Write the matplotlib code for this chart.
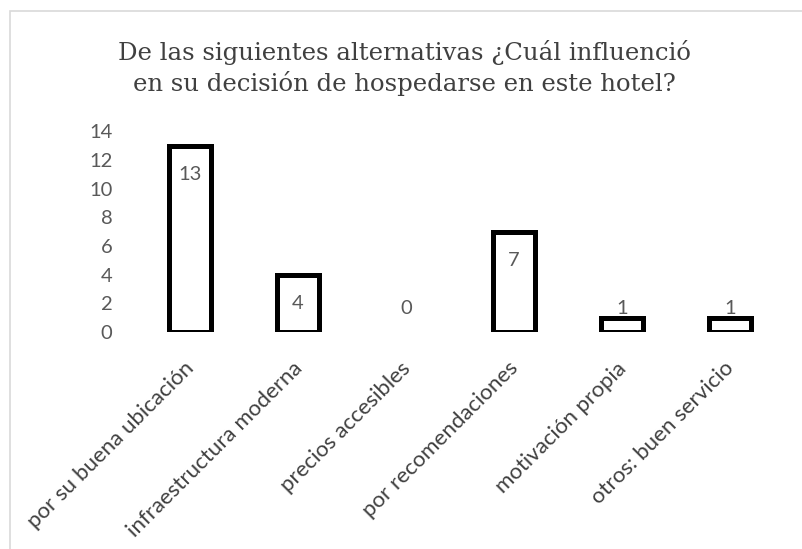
import matplotlib.pyplot as plt
import matplotlib.transforms as mtransforms
import numpy as np

categories = ['por su buena ubicación', 'infraestructura moderna', 'precios accesibles',
              'por recomendaciones', 'motivación propia', 'otros: buen servicio']
values = [13, 4, 0, 7, 1, 1]
yticks = [0, 2, 4, 6, 8, 10, 12, 14]
title = 'De las siguientes alternativas ¿Cuál influenció\nen su decisión de hospedarse en este hotel?'

fig = plt.figure(figsize=(8.02, 5.49), dpi=100)
# chart border (light gray frame like the spreadsheet chart area)
fig.patches.append(plt.Rectangle((10 / 802, -0.1), 1.0, (549 - 11) / 549 + 0.1,
                                 transform=fig.transFigure, fill=False,
                                 edgecolor='#d9d9d9', linewidth=1.2))

ax = fig.add_axes([136 / 802, 1 - 332 / 549, (784 - 136) / 802, (332 - 131.5) / 549])
x = np.arange(len(categories))
edges = ['black' if v > 0 else 'none' for v in values]
ax.bar(x, values, width=0.38, facecolor='white', edgecolor=edges, linewidth=3.6)

for xi, v in zip(x, values):
    y = max(v - 2.0, 1.65)
    ax.text(xi, y, str(v), ha='center', va='center', fontsize=14.5,
            family='Lato', color='#595959')

ax.set_xlim(-0.5, len(categories) - 0.5)
ax.set_ylim(0, 14)
ax.set_yticks(yticks)
ax.set_yticklabels([str(t) for t in yticks], family='Lato', fontsize=14.5, color='#595959')
ax.tick_params(axis='y', length=0, pad=17)
ax.set_xticks(x)
ax.set_xticklabels(categories, rotation=45, ha='right', rotation_mode='anchor',
                   family='Lato', fontsize=16, color='#404040')
ax.tick_params(axis='x', length=0, pad=16)
shift = mtransforms.ScaledTranslation(-6 / 100, -4 / 100, fig.dpi_scale_trans)
for lbl in ax.get_xticklabels():
    lbl.set_transform(lbl.get_transform() + shift)
for s in ax.spines.values():
    s.set_visible(False)

fig.text(404 / 802, 1 - 68 / 549, title, ha='center', va='center', family='DejaVu Serif',
         fontsize=17.6, color='#404040', linespacing=1.32)

fig.savefig('out.png', dpi=100)
